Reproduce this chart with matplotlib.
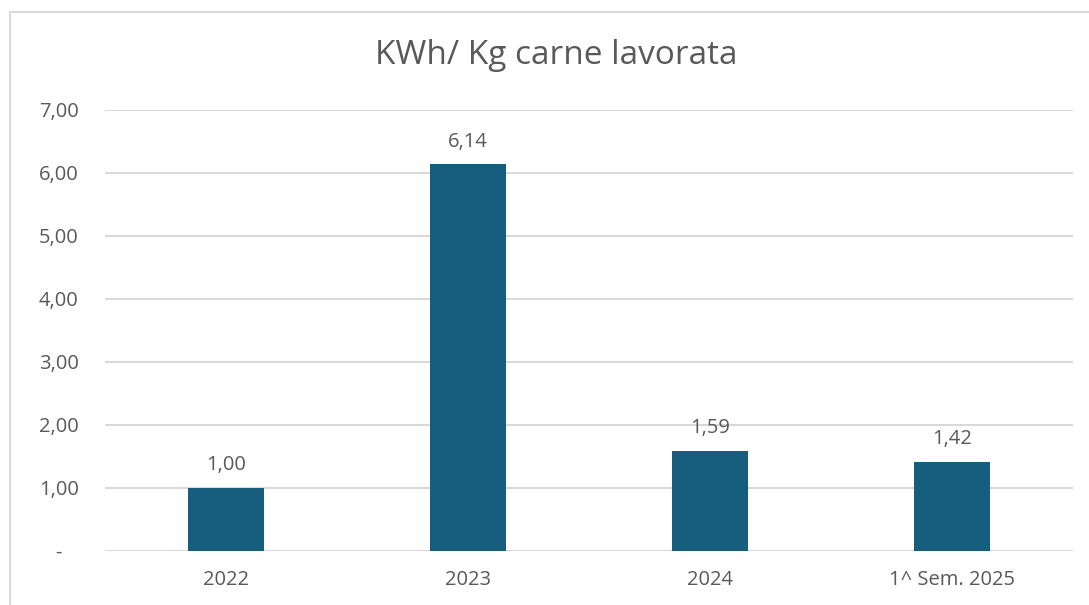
import matplotlib.pyplot as plt
import numpy as np
from matplotlib.patches import Rectangle

categories = ['2022', '2023', '2024', '1^ Sem. 2025']
values = [1.00, 6.14, 1.59, 1.42]
yticks = [0, 1, 2, 3, 4, 5, 6, 7]

text_color = '#595959'
bar_color = '#175E7E'
grid_color = '#D9D9D9'

plt.rcParams['font.family'] = ['Open Sans', 'DejaVu Sans']

fig = plt.figure(figsize=(10.89, 6.05), dpi=100)
ax = fig.add_axes([0.0964, 0.0893, 0.8889, 0.7289])

# chart border (cut off on the right and bottom like the screenshot)
fig.patches.append(Rectangle((10 / 1089, -0.1), 1.2, 1 - 12 / 605 + 0.1,
                             transform=fig.transFigure, fill=False,
                             edgecolor=grid_color, linewidth=1.5))

x = np.arange(len(categories))
ax.bar(x, values, width=0.314, color=bar_color, zorder=3)

for i, v in enumerate(values):
    ax.text(i, v + 0.2, f"{v:.2f}".replace('.', ','), ha='center', va='bottom',
            fontsize=14.5, color=text_color)

ax.set_xlim(-0.5, len(categories) - 0.5)
ax.set_ylim(0, 7)
ax.set_yticks(yticks)
ax.set_yticklabels(['-   ' if t == 0 else f"{t:.2f}".replace('.', ',') for t in yticks])
ax.set_xticks(x)
ax.set_xticklabels(categories)
ax.tick_params(axis='both', length=0, labelsize=14.5, colors=text_color)
ax.tick_params(axis='y', pad=19)
ax.tick_params(axis='x', pad=14)
for lbl in ax.get_yticklabels():
    lbl.set_horizontalalignment('right')

ax.grid(axis='y', color=grid_color, linewidth=1.5, zorder=0)
for s in ax.spines.values():
    s.set_visible(False)

fig.text(0.5106, 1 - 56 / 605, 'KWh/ Kg carne lavorata', ha='center', va='center',
         fontsize=24, color=text_color)

plt.savefig('out.png', dpi=100)
plt.close()
